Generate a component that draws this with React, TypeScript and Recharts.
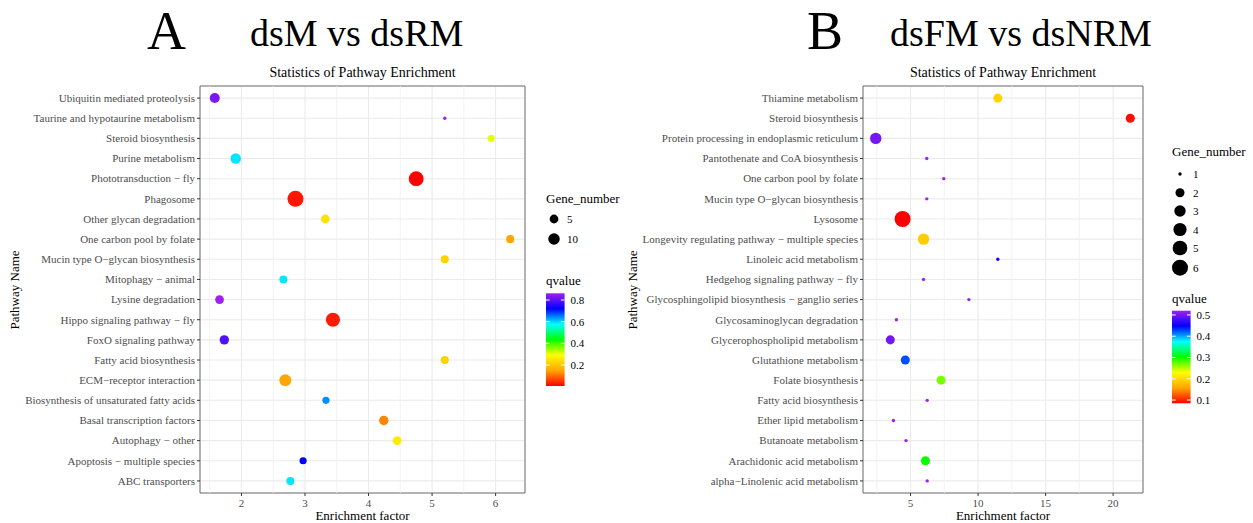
import React from 'react';
import { ScatterChart, Scatter, XAxis, YAxis, CartesianGrid, ReferenceLine, ReferenceArea } from 'recharts';

// ---------- Panel A data (bottom -> top) ----------
const pathwaysA = [
  'ABC transporters',
  'Apoptosis − multiple species',
  'Autophagy − other',
  'Basal transcription factors',
  'Biosynthesis of unsaturated fatty acids',
  'ECM−receptor interaction',
  'Fatty acid biosynthesis',
  'FoxO signaling pathway',
  'Hippo signaling pathway − fly',
  'Lysine degradation',
  'Mitophagy − animal',
  'Mucin type O−glycan biosynthesis',
  'One carbon pool by folate',
  'Other glycan degradation',
  'Phagosome',
  'Phototransduction − fly',
  'Purine metabolism',
  'Steroid biosynthesis',
  'Taurine and hypotaurine metabolism',
  'Ubiquitin mediated proteolysis',
];
const enrichA = [2.77, 2.97, 4.45, 4.24, 3.33, 2.69, 5.2, 1.73, 3.44, 1.655, 2.66, 5.2, 6.23, 3.32, 2.85, 4.75, 1.91, 5.93, 5.2, 1.58];
const geneA = [4, 3, 5, 6, 3, 11, 4, 6, 17, 5, 4, 4, 4, 5, 23, 19, 8, 3, 1, 7];
const qA = [0.59, 0.72, 0.26, 0.12, 0.64, 0.15, 0.22, 0.79, 0.03, 0.862, 0.59, 0.22, 0.15, 0.245, 0.025, 0.0063, 0.59, 0.305, 0.86, 0.83];
const xTicksA = [2, 3, 4, 5, 6];
const xMinorA = [1.5, 2.5, 3.5, 4.5, 5.5];
const sizeBreaksA = [5, 10];
const qBreaksA = [0.2, 0.4, 0.6, 0.8];

// ---------- Panel B data (bottom -> top) ----------
const pathwaysB = [
  'alpha−Linolenic acid metabolism',
  'Arachidonic acid metabolism',
  'Butanoate metabolism',
  'Ether lipid metabolism',
  'Fatty acid biosynthesis',
  'Folate biosynthesis',
  'Glutathione metabolism',
  'Glycerophospholipid metabolism',
  'Glycosaminoglycan degradation',
  'Glycosphingolipid biosynthesis − ganglio series',
  'Hedgehog signaling pathway − fly',
  'Linoleic acid metabolism',
  'Longevity regulating pathway − multiple species',
  'Lysosome',
  'Mucin type O−glycan biosynthesis',
  'One carbon pool by folate',
  'Pantothenate and CoA biosynthesis',
  'Protein processing in endoplasmic reticulum',
  'Steroid biosynthesis',
  'Thiamine metabolism',
];
const enrichB = [6.23, 6.1, 4.66, 3.73, 6.23, 7.26, 4.61, 3.5, 3.95, 9.32, 5.96, 11.46, 5.96, 4.41, 6.2, 7.46, 6.2, 2.42, 21.27, 11.46];
const geneB = [1, 2, 1, 1, 1, 2, 2, 2, 1, 1, 1, 1, 3, 6, 1, 1, 1, 3, 2, 2];
const qB = [0.52, 0.3, 0.52, 0.52, 0.52, 0.268, 0.425, 0.5, 0.52, 0.52, 0.52, 0.455, 0.19, 0.0845, 0.52, 0.52, 0.52, 0.5, 0.09, 0.194];
const xTicksB = [5, 10, 15, 20];
const xMinorB = [2.5, 7.5, 12.5, 17.5];
const sizeBreaksB = [1, 2, 3, 4, 5, 6];
const qBreaksB = [0.1, 0.2, 0.3, 0.4, 0.5];

// ---------- helpers ----------
const SERIF = "'Liberation Serif', 'Times New Roman', serif";
const rainbow = ['#FF0000', '#FFA500', '#FFFF00', '#00FF00', '#00FFFF', '#0000FF', '#A020F0'];

function hexToRgb(h: string) {
  return [parseInt(h.slice(1, 3), 16), parseInt(h.slice(3, 5), 16), parseInt(h.slice(5, 7), 16)];
}
function qColor(q: number, dom: number[]) {
  let t = (q - dom[0]) / (dom[1] - dom[0]);
  t = Math.max(0, Math.min(1, t));
  const pos = t * (rainbow.length - 1);
  const i = Math.min(rainbow.length - 2, Math.floor(pos));
  const f = pos - i;
  const a = hexToRgb(rainbow[i]);
  const b = hexToRgb(rainbow[i + 1]);
  const c = a.map((v, k) => Math.round(v + (b[k] - v) * f));
  return `rgb(${c[0]},${c[1]},${c[2]})`;
}
function diam(n: number, dom: number[]) {
  const t = dom[1] > dom[0] ? (n - dom[0]) / (dom[1] - dom[0]) : 0;
  return 3.37 + 12.66 * Math.sqrt(Math.max(0, t));
}
function expand(vals: number[]) {
  const mn = Math.min(...vals);
  const mx = Math.max(...vals);
  const d = (mx - mn) * 0.05;
  return [mn - d, mx + d];
}

interface PanelProps {
  left: number;
  width: number;
  yAxisWidth: number;
  rightMargin: number;
  pathways: string[];
  enrich: number[];
  gene: number[];
  q: number[];
  xTicks: number[];
  xMinor: number[];
}

function Panel(props: PanelProps) {
  const { left, width, yAxisWidth, rightMargin, pathways, enrich, gene, q, xTicks, xMinor } = props;
  const data = pathways.map((name, i) => ({ name, x: enrich[i], y: i + 1, n: gene[i], q: q[i] }));
  const xDom = expand(enrich);
  const nDom = [Math.min(...gene), Math.max(...gene)];
  const qDom = [Math.min(...q), Math.max(...q)];
  const yTicks = pathways.map((_, i) => i + 1);
  const yDom = [0.4, pathways.length + 0.6];
  const renderYTick = (tp: any) => (
    <text x={tp.x} y={tp.y} dy={3.8} textAnchor="end" fontFamily={SERIF} fontSize={11} fill="#4D4D4D">
      {pathways[tp.payload.value - 1] ?? ''}
    </text>
  );
  const renderXTick = (tp: any) => (
    <text x={tp.x} y={tp.y} dy={9} textAnchor="middle" fontFamily={SERIF} fontSize={11} fill="#4D4D4D">
      {tp.payload.value}
    </text>
  );
  return (
    <div style={{ position: 'absolute', left, top: 0 }}>
      <ScatterChart width={width} height={523} margin={{ top: 86, right: rightMargin, bottom: 0, left: 0 }}>
        <CartesianGrid stroke="#EBEBEB" strokeWidth={1.1} />
        {xMinor.map((v) => (
          <ReferenceLine key={'m' + v} x={v} stroke="#EFEFEF" strokeWidth={0.8} />
        ))}
        <XAxis
          type="number"
          dataKey="x"
          domain={xDom}
          ticks={xTicks}
          allowDataOverflow
          height={30}
          tickSize={3}
          tickMargin={2}
          axisLine={false}
          tickLine={{ stroke: '#333333' }}
          tick={renderXTick}
        />
        <YAxis
          type="number"
          dataKey="y"
          domain={yDom}
          ticks={yTicks}
          interval={0}
          allowDataOverflow
          width={yAxisWidth}
          tickSize={3}
          tickMargin={2}
          axisLine={false}
          tickLine={{ stroke: '#333333' }}
          tick={renderYTick}
        />
        <ReferenceArea x1={xDom[0]} x2={xDom[1]} y1={yDom[0]} y2={yDom[1]} fill="none" fillOpacity={0} stroke="#707070" strokeWidth={1} ifOverflow="visible" />
        <Scatter
          data={data}
          isAnimationActive={false}
          shape={(p: any) => (
            <circle cx={p.cx} cy={p.cy} r={diam(p.payload.n, nDom) / 2} fill={qColor(p.payload.q, qDom)} />
          )}
        />
      </ScatterChart>
    </div>
  );
}

interface LegendProps {
  x: number;
  titleY: number;
  dotYs: number[];
  breaks: number[];
  gene: number[];
  q: number[];
  qBreaks: number[];
  barTop: number;
  barBottom: number;
  id: string;
}

function LegendSvg(p: LegendProps) {
  const nDom = [Math.min(...p.gene), Math.max(...p.gene)];
  const qDom = [Math.min(...p.q), Math.max(...p.q)];
  const barW = 18.6;
  const h = p.barBottom - p.barTop;
  const qy = (v: number) => p.barBottom - ((v - qDom[0]) / (qDom[1] - qDom[0])) * h;
  return (
    <g>
      <defs>
        <linearGradient id={p.id} x1="0" y1="1" x2="0" y2="0">
          {rainbow.map((c, i) => (
            <stop key={i} offset={i / (rainbow.length - 1)} stopColor={c} />
          ))}
        </linearGradient>
      </defs>
      <text x={p.x} y={p.titleY} fontFamily={SERIF} fontSize={13} fill="#000">Gene_number</text>
      {p.breaks.map((b, i) => (
        <g key={b}>
          <circle cx={p.x + 8} cy={p.dotYs[i]} r={diam(b, nDom) / 2} fill="#000" />
          <text x={p.x + 21} y={p.dotYs[i] + 4} fontFamily={SERIF} fontSize={11} fill="#000">{b}</text>
        </g>
      ))}
      <text x={p.x} y={p.barTop - 8} fontFamily={SERIF} fontSize={13} fill="#000">qvalue</text>
      <rect x={p.x} y={p.barTop} width={barW} height={h} fill={`url(#${p.id})`} />
      {p.qBreaks.map((v) => (
        <g key={v}>
          <line x1={p.x} x2={p.x + 3.7} y1={qy(v)} y2={qy(v)} stroke="#fff" strokeWidth={1} />
          <line x1={p.x + barW - 3.7} x2={p.x + barW} y1={qy(v)} y2={qy(v)} stroke="#fff" strokeWidth={1} />
          <text x={p.x + barW + 6} y={qy(v) + 4} fontFamily={SERIF} fontSize={11} fill="#000">{v.toFixed(1)}</text>
        </g>
      ))}
    </g>
  );
}

export default function App() {
  return (
    <div style={{ position: 'absolute', left: 0, top: 0, width: 1253, height: 523, background: '#fff', overflow: 'hidden' }}>
      <Panel left={0} width={560} yAxisWidth={200} rightMargin={35} pathways={pathwaysA} enrich={enrichA} gene={geneA} q={qA} xTicks={xTicksA} xMinor={xMinorA} />
      <Panel left={620} width={540} yAxisWidth={243} rightMargin={17} pathways={pathwaysB} enrich={enrichB} gene={geneB} q={qB} xTicks={xTicksB} xMinor={xMinorB} />
      <svg width={1253} height={523} style={{ position: 'absolute', left: 0, top: 0, pointerEvents: 'none' }}>
        <text x={147} y={49} fontFamily={SERIF} fontSize={54} fill="#000">A</text>
        <text x={250} y={46} fontFamily={SERIF} fontSize={38} fill="#000">dsM vs dsRM</text>
        <text x={807} y={49} fontFamily={SERIF} fontSize={54} fill="#000">B</text>
        <text x={890} y={46} fontFamily={SERIF} fontSize={38} fill="#000">dsFM vs dsNRM</text>

        <text x={362.5} y={77} textAnchor="middle" fontFamily={SERIF} fontSize={14} fill="#000">Statistics of Pathway Enrichment</text>
        <text x={1003} y={77} textAnchor="middle" fontFamily={SERIF} fontSize={14} fill="#000">Statistics of Pathway Enrichment</text>

        <text x={362.5} y={520} textAnchor="middle" fontFamily={SERIF} fontSize={13} fill="#000">Enrichment factor</text>
        <text x={1003} y={520} textAnchor="middle" fontFamily={SERIF} fontSize={13} fill="#000">Enrichment factor</text>

        <text transform="translate(19,290) rotate(-90)" textAnchor="middle" fontFamily={SERIF} fontSize={13} fill="#000">Pathway Name</text>
        <text transform="translate(637,290) rotate(-90)" textAnchor="middle" fontFamily={SERIF} fontSize={13} fill="#000">Pathway Name</text>

        <LegendSvg id="gradA" x={546} titleY={203} dotYs={[219, 239]} breaks={sizeBreaksA} gene={geneA} q={qA} qBreaks={qBreaksA} barTop={293.3} barBottom={386} />
        <LegendSvg id="gradB" x={1172} titleY={156} dotYs={[174, 192.7, 211, 229.5, 248, 267.7]} breaks={sizeBreaksB} gene={geneB} q={qB} qBreaks={qBreaksB} barTop={310.7} barBottom={403.3} />
      </svg>
    </div>
  );
}
